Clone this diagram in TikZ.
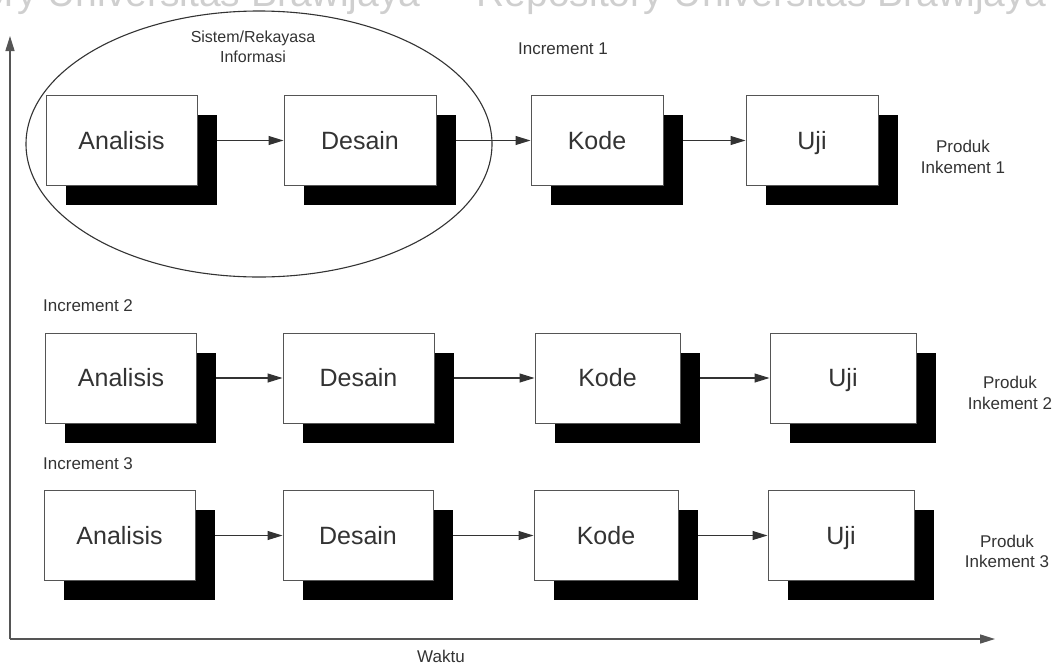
\documentclass[tikz,border=0pt]{standalone}
\usepackage{fontspec}
\setmainfont{Liberation Sans}
\usetikzlibrary{arrows.meta,shadows,backgrounds,shapes.geometric}

\definecolor{ink}{HTML}{333333}
\definecolor{frame}{HTML}{555555}
\definecolor{mark}{HTML}{CFCFCF}

\tikzset{
  stage/.style={draw=frame, line width=1pt, fill=white, inner sep=0pt,
    minimum height=90pt, text=ink, text height=18pt, text depth=1pt,
    font=\fontsize{25}{30}\selectfont,
    drop shadow={shadow xshift=19.5pt, shadow yshift=-19.5pt,
                 fill=black, opacity=1}},
  flow/.style={draw=ink, line width=1.1pt,
    -{Triangle[length=15pt,width=9pt]}},
  axis/.style={draw=frame, line width=1.5pt,
    -{Triangle[length=15pt,width=9pt]}},
  note/.style={text=ink, inner sep=0pt, align=center,
    font=\fontsize{17}{20.5}\selectfont},
  phasering/.style={draw=ink, line width=1.1pt, ellipse},
}

\begin{document}
\begin{tikzpicture}[x=1pt, y=-1pt]
\useasboundingbox (0,0) rectangle (1052,665);

% repository watermark along the top edge
\begin{scope}
  \clip (0,0) rectangle (1052,665);
  \node[anchor=base east, inner sep=0pt, text=mark,
        font=\fontsize{39}{39}\selectfont] (wm) at (1047,6)
    {ory Universitas Brawijaya\ \ -\ \ Repository Universitas Brawijaya};
\end{scope}

% time axes
\coordinate (o) at (10,639);
\coordinate (ytop) at (10,36);
\coordinate (xend) at (995,639);
\draw[axis] (o) -- (ytop);
\draw[axis] (o) -- (xend);
\node[note] (waktu) at (441,656) {Waktu};

% scope of the system / information engineering phase
\node[phasering, minimum width=466pt, minimum height=266pt] (sys) at (259,144) {};
\node[note, font=\fontsize{16}{20}\selectfont] (syslabel) at (253,47) {Sistem/Rekayasa\\Informasi};

% increment 1
\node[note] (inc1) at (563,49) {Increment 1};
\node[stage, minimum width=151pt] (a1) at (121.5,140.5) {Analisis};
\node[stage, minimum width=152pt] (d1) at (360,140.5) {Desain};
\node[stage, minimum width=132pt] (k1) at (597,140.5) {Kode};
\node[stage, minimum width=132pt] (u1) at (812,140.5) {Uji};
\node[note] (p1) at (963,157) {Produk\\Inkement 1};

% increment 2
\node[note, anchor=west] (inc2) at (43,306) {Increment 2};
\node[stage, minimum width=151pt] (a2) at (121,378) {Analisis};
\node[stage, minimum width=151pt] (d2) at (358.5,378) {Desain};
\node[stage, minimum width=145pt] (k2) at (607.5,378) {Kode};
\node[stage, minimum width=146pt] (u2) at (843,378) {Uji};
\node[note] (p2) at (1010,393) {Produk\\Inkement 2};

% increment 3
\node[note, anchor=west] (inc3) at (43,464) {Increment 3};
\node[stage, minimum width=151pt] (a3) at (119.5,535.5) {Analisis};
\node[stage, minimum width=150pt] (d3) at (358,535.5) {Desain};
\node[stage, minimum width=144pt] (k3) at (606,535.5) {Kode};
\node[stage, minimum width=146pt] (u3) at (841,535.5) {Uji};
\node[note] (p3) at (1007,551.5) {Produk\\Inkement 3};

% phase transitions, kept beneath the shadows
\begin{pgfonlayer}{background}
  \foreach \r in {1,2,3} {
    \draw[flow] (a\r.east) -- (d\r.west);
    \draw[flow] (d\r.east) -- (k\r.west);
    \draw[flow] (k\r.east) -- (u\r.west);
  }
\end{pgfonlayer}
\end{tikzpicture}
\end{document}
